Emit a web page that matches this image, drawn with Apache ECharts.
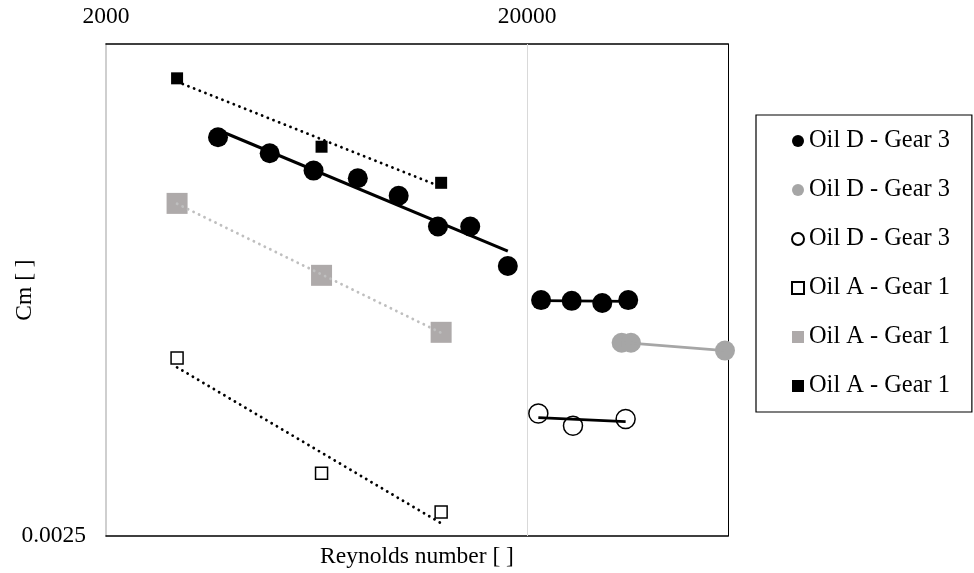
<!DOCTYPE html>
<html>
<head>
<meta charset="utf-8">
<title>Cm vs Reynolds number</title>
<script src="https://cdn.jsdelivr.net/npm/echarts@6/dist/echarts.min.js"></script>
<style>
  html, body { margin: 0; padding: 0; background: #fff; }
  #main { width: 974px; height: 573px; }
</style>
</head>
<body>
<div id="main"></div>
<script>
// Oil D - Gear 3 (three groups) and Oil A - Gear 1 (three groups)
const reDBlack = [3690, 4895, 6222, 7925, 9910, 12285, 14656, 18000];
const cmDBlack = [0.00769, 0.00735, 0.00700, 0.00685, 0.00652, 0.00598, 0.00598, 0.00535];
const reDBlack2 = [21590, 25525, 30170, 34770];
const cmDBlack2 = [0.00486, 0.00485, 0.00482, 0.00486];
const reDGray = [33540, 35290, 59020];
const cmDGray = [0.00431, 0.00431, 0.004215];
const reDOpen = [21270, 25705, 34280];
const cmDOpen = [0.00353, 0.00341, 0.003476];
const reA = [2950, 6500, 12500];
const cmAOpen = [0.004128, 0.002983, 0.002675];
const cmAGray = [0.006382, 0.005211, 0.004438];
const cmABlack = [0.009078, 0.007487, 0.006763];

const xTickLabels = [2000, 20000];
const yTickLabels = [0.0025];
const legendNames = ['dBlack', 'dGray', 'dOpen', 'aOpen', 'aGray', 'aBlack'];
const legendTexts = ['Oil D - Gear 3', 'Oil D - Gear 3', 'Oil D - Gear 3',
                     'Oil A - Gear 1', 'Oil A - Gear 1', 'Oil A - Gear 1'];

const FONT = "'Liberation Serif', 'Times New Roman', serif";
const FS = 23.5;

function pairs(xs, ys) {
    return xs.map((x, i) => [x, ys[i]]);
}

// power trendline (least squares in log-log), from first to last x
function powerFit(xs, ys) {
    const lx = xs.map(Math.log), ly = ys.map(Math.log);
    const n = xs.length;
    const mx = lx.reduce((a, b) => a + b, 0) / n;
    const my = ly.reduce((a, b) => a + b, 0) / n;
    let sxy = 0, sxx = 0;
    for (let i = 0; i < n; i++) {
        sxy += (lx[i] - mx) * (ly[i] - my);
        sxx += (lx[i] - mx) * (lx[i] - mx);
    }
    const b = sxy / sxx, a = my - b * mx;
    const x0 = Math.min(...xs), x1 = Math.max(...xs);
    return [[x0, Math.exp(a + b * Math.log(x0))], [x1, Math.exp(a + b * Math.log(x1))]];
}

function dots(color) {
    return { color: color, width: 2.8, type: [0.1, 6], cap: 'round' };
}

function trend(xs, ys, lineStyle) {
    return {
        type: 'line', xAxisIndex: 0, yAxisIndex: 0, z: 5, silent: true,
        symbol: 'none', showSymbol: false, data: powerFit(xs, ys), lineStyle: lineStyle
    };
}

function points(name, xs, ys, symbol, size, itemStyle) {
    return {
        name: name, type: 'scatter', xAxisIndex: 0, yAxisIndex: 0, z: 3, silent: true,
        symbol: symbol, symbolSize: size, data: pairs(xs, ys),
        itemStyle: Object.assign({ opacity: 1 }, itemStyle)
    };
}

const chart = echarts.init(document.getElementById('main'));

const logX = { type: 'log', logBase: 10, min: 2000, max: 60000 };
const logY = { type: 'log', logBase: 10, min: 0.0025, max: 0.01 };

const blackCircles = points('dBlack', reDBlack, cmDBlack, 'circle', 20, { color: '#000' });
blackCircles.markLine = {
    silent: true, symbol: 'none', label: { show: false },
    lineStyle: { color: '#d9d9d9', width: 1, type: 'solid' },
    data: [{ xAxis: 20000 }]
};

chart.setOption({
    animation: false,
    backgroundColor: '#fff',
    textStyle: { fontFamily: FONT },
    grid: { left: 106, top: 44, right: 246, bottom: 37, containLabel: false, outerBoundsMode: 'none' },
    legend: {
        orient: 'vertical', left: 756, top: 115,
        padding: [14, 22, 14, 35],
        itemGap: 25, itemWidth: 12, itemHeight: 12,
        borderColor: '#000', borderWidth: 1.2,
        selectedMode: false,
        data: legendNames.map((n, i) => ({ name: n, icon: i < 3 ? 'circle' : 'rect' })),
        formatter: (name) => legendTexts[legendNames.indexOf(name)],
        textStyle: { fontFamily: FONT, fontSize: 24.4, lineHeight: 24, color: '#000' }
    },
    xAxis: [
        Object.assign({}, logX, {
            position: 'top',
            axisLine: { show: true, lineStyle: { color: '#000', width: 1.5 } },
            axisTick: { show: false },
            splitLine: { show: false },
            axisLabel: {
                customValues: xTickLabels, margin: 15, color: '#000',
                fontFamily: FONT, fontSize: FS,
                formatter: (v) => String(Math.round(v))
            }
        }),
        Object.assign({}, logX, {
            position: 'bottom',
            axisLine: { show: true, lineStyle: { color: '#000', width: 1.5 } },
            axisTick: { show: false },
            splitLine: { show: false },
            axisLabel: { show: false },
            name: 'Reynolds number [ ]', nameLocation: 'middle', nameGap: 9,
            nameMoveOverlap: false,
            nameTextStyle: { fontFamily: FONT, fontSize: FS, color: '#000' }
        })
    ],
    yAxis: [
        Object.assign({}, logY, {
            position: 'left',
            axisLine: { show: true, lineStyle: { color: '#bfbfbf', width: 1.5 } },
            axisTick: { show: false },
            splitLine: { show: false },
            axisLabel: {
                margin: 20, color: '#000', fontFamily: FONT, fontSize: FS,
                showMinLabel: true, showMaxLabel: false,
                formatter: (v) => {
                    const hit = yTickLabels.find((t) => Math.abs(t - v) / t < 1e-6);
                    return hit !== undefined ? String(hit) : '';
                }
            },
            name: 'Cm [ ]', nameLocation: 'middle', nameGap: 69, nameRotate: 90,
            nameMoveOverlap: false,
            nameTextStyle: { fontFamily: FONT, fontSize: FS, color: '#000' }
        }),
        Object.assign({}, logY, {
            position: 'right',
            axisLine: { show: true, lineStyle: { color: '#000', width: 1 } },
            axisTick: { show: false },
            splitLine: { show: false },
            axisLabel: { show: false }
        })
    ],
    series: [
        blackCircles,
        points('dBlack', reDBlack2, cmDBlack2, 'circle', 20, { color: '#000' }),
        points('dGray', reDGray, cmDGray, 'circle', 20, { color: '#a6a6a6' }),
        points('dOpen', reDOpen, cmDOpen, 'circle', 19, { color: '#fff', borderColor: '#000', borderWidth: 1.5 }),
        points('aOpen', reA, cmAOpen, 'rect', 12, { color: '#fff', borderColor: '#000', borderWidth: 1.5 }),
        points('aGray', reA, cmAGray, 'rect', 21, { color: '#aeaaaa' }),
        points('aBlack', reA, cmABlack, 'rect', 12, { color: '#000' }),
        trend(reDBlack, cmDBlack, { color: '#000', width: 3, type: 'solid' }),
        trend(reDBlack2, cmDBlack2, { color: '#000', width: 2.7, type: 'solid' }),
        trend(reDGray, cmDGray, { color: '#a6a6a6', width: 2.7, type: 'solid' }),
        trend(reDOpen, cmDOpen, { color: '#000', width: 2.7, type: 'solid' }),
        trend(reA, cmAOpen, dots('#000')),
        trend(reA, cmAGray, dots('#bfbfbf')),
        trend(reA, cmABlack, dots('#000'))
    ]
});
</script>
</body>
</html>
